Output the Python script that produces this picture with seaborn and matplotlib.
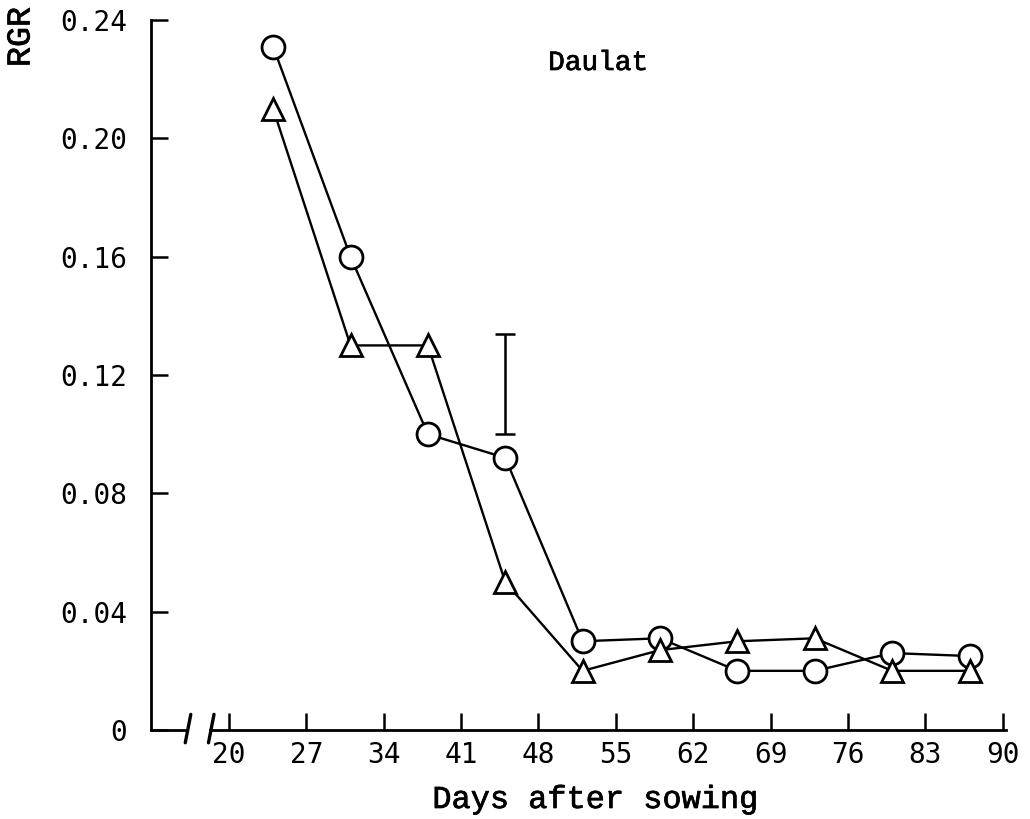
import matplotlib
matplotlib.use("Agg")
import matplotlib.pyplot as plt
import matplotlib.patheffects as pe
import seaborn as sns
import pandas as pd

# Relative growth rate of the Daulat variety over the growing season
days = [24, 31, 38, 45, 52, 59, 66, 73, 80, 87]
rgr_circle = [0.231, 0.160, 0.100, 0.092, 0.030, 0.031, 0.020, 0.020, 0.026, 0.025]
rgr_triangle = [0.210, 0.130, 0.130, 0.050, 0.020, 0.027, 0.030, 0.031, 0.020, 0.020]

# LSD bar
lsd_day = 45
lsd_low = 0.100
lsd_high = 0.134

x_ticks = [20, 27, 34, 41, 48, 55, 62, 69, 76, 83, 90]
y_ticks = [0, 0.04, 0.08, 0.12, 0.16, 0.20, 0.24]
y_labels = ["0", "0.04", "0.08", "0.12", "0.16", "0.20", "0.24"]

df = pd.DataFrame({"day": days, "circle": rgr_circle, "triangle": rgr_triangle})

sns.set_theme(style="white")
plt.rcParams["font.family"] = ["DejaVu Sans Mono"]
mono = "Liberation Mono"
ink = [pe.withStroke(linewidth=0.5, foreground="black")]

fig = plt.figure(figsize=(10.3, 8.19), dpi=100)
ax = fig.add_axes([151 / 1030, 89 / 819, 855 / 1030, 710 / 819])

line_kw = dict(color="black", linewidth=1.7, markersize=16.5, markeredgewidth=2.0,
               markerfacecolor="white", markeredgecolor="black", clip_on=False)
sns.lineplot(data=df, x="day", y="circle", marker="o", ax=ax, zorder=3, **line_kw)
sns.lineplot(data=df, x="day", y="triangle", marker="^", ax=ax, zorder=3, **line_kw)

mid = (lsd_low + lsd_high) / 2
ax.errorbar([lsd_day], [mid], yerr=[(lsd_high - lsd_low) / 2], fmt="none",
            ecolor="black", elinewidth=1.8, capsize=7, capthick=1.8)

x_min, x_max = 12.95, 90.3
brk_a, brk_b = 16.2, 18.3
ax.set_xlim(x_min, x_max)
ax.set_ylim(0, 0.24)

for side in ("top", "right"):
    ax.spines[side].set_visible(False)
ax.spines["left"].set_color("black")
ax.spines["left"].set_linewidth(2)
ax.spines["bottom"].set_color("black")
ax.spines["bottom"].set_linewidth(2)
ax.spines["bottom"].set_bounds(brk_b, x_max)

# short axis stub before the break and the two break slashes
trans = ax.get_xaxis_transform()
ax.plot([x_min, brk_a], [0, 0], transform=trans, color="black", lw=2, clip_on=False)
for bx in (brk_a, brk_b):
    ax.plot([bx - 0.15, bx + 0.35], [-0.018, 0.022], transform=trans,
            color="black", lw=2.4, clip_on=False)

ax.set_xticks(x_ticks)
ax.set_xticklabels([str(v) for v in x_ticks])
ax.set_yticks(y_ticks)
ax.set_yticklabels(y_labels)
ax.tick_params(axis="both", direction="in", length=12, width=1.8, color="black",
               labelsize=20, labelcolor="black", left=True, bottom=True)
ax.tick_params(axis="y", pad=17)
ax.tick_params(axis="x", pad=8)

ax.set_xlabel("")
ax.set_ylabel("")
ax.grid(False)

ax.text((598 - 151) / 855, (730 - 63) / 710, "Daulat", transform=ax.transAxes,
        ha="center", va="center", fontsize=20, family=mono, color="black",
        path_effects=ink)
ax.text((596 - 151) / 855, -70 / 710, "Days after sowing", transform=ax.transAxes,
        ha="center", va="center", fontsize=23, family=mono, color="black",
        path_effects=ink)
fig.text(21 / 1030, 1 - 37 / 819, "RGR", rotation=90, ha="center", va="center",
         fontsize=24, family=mono, color="black", path_effects=ink)

fig.savefig("out.png", dpi=100, facecolor="white")
